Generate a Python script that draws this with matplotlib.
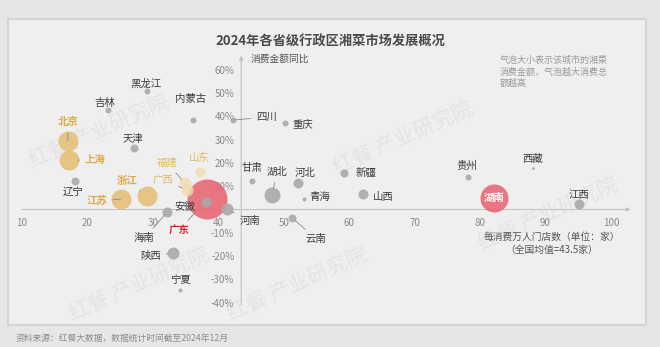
import matplotlib
matplotlib.use("Agg")
import matplotlib.pyplot as plt
from matplotlib.patches import FancyBboxPatch

plt.rcParams['font.family'] = ['Noto Sans CJK SC', 'DejaVu Sans']

# 省份、每消费万人门店数、消费金额同比(%)、相对消费金额(气泡大小)
provinces = ['北京', '上海', '辽宁', '吉林', '黑龙江', '天津', '内蒙古', '江苏', '浙江',
             '福建', '广西', '山东', '广东', '安徽', '海南', '河南', '陕西', '宁夏',
             '四川', '重庆', '甘肃', '湖北', '河北', '青海', '新疆', '山西', '云南',
             '贵州', '西藏', '湖南', '江西']
stores = [17.0, 17.2, 18.1, 23.1, 29.1, 27.1, 36.1, 25.1, 29.1,
          34.9, 35.2, 37.2, 38.3, 38.1, 32.2, 41.3, 33.1, 34.1,
          42.2, 50.2, 45.1, 48.2, 52.2, 53.1, 59.2, 62.1, 51.3,
          78.2, 88.1, 82.1, 95.1]
growth = [29.4, 21.2, 12.2, 42.7, 50.9, 26.4, 38.4, 4.5, 5.8,
          11.4, 8.4, 16.1, 4.5, 3.2, -1.1, 0.2, -18.7, -34.5,
          38.4, 37.1, 12.2, 6.2, 11.4, 4.5, 15.7, 6.7, -3.6,
          13.9, 17.8, 4.9, 2.4]
amount = [100, 100, 16, 9, 9, 16, 9, 100, 100,
          36, 36, 25, 400, 25, 25, 36, 36, 4,
          9, 9, 9, 64, 25, 4, 16, 25, 16,
          9, 2, 196, 25]

x_ticks = [10, 20, 30, 40, 50, 60, 70, 80, 90, 100]
y_ticks = [-40, -30, -20, -10, 10, 20, 30, 40, 50, 60]
avg_stores = 43.5

gold = ['北京', '上海', '江苏', '浙江']
pale_gold = ['福建', '广西', '山东']
red = ['广东', '湖南']

# label offsets in pixels (dx, dy) and whether a leader line is drawn
layout = {
    '北京': (0, 19, True), '上海': (26, 0, True), '辽宁': (-2, -11, False),
    '吉林': (-3, 7, False), '黑龙江': (-1, 7, False), '天津': (-1, 9, False),
    '内蒙古': (-2, 21, False), '江苏': (-24, -2, True), '浙江': (-20, 15, True),
    '福建': (-18, 20, True), '广西': (-24, 10, True), '山东': (-1, 14, False),
    '广东': (-28, -31, True), '安徽': (-21, -5, False), '海南': (-23, -26, True),
    '河南': (23, -12, True), '陕西': (-23, -3, True), '宁夏': (1, 10, False),
    '四川': (34, 3, True), '重庆': (18, -1, False), '甘肃': (0, 13, False),
    '湖北': (5, 23, True), '河北': (7, 10, False), '青海': (16, 2, False),
    '新疆': (22, -1, False), '山西': (20, -3, False), '云南': (24, -21, True),
    '贵州': (-1, 11, False), '西藏': (0, 9, False), '湖南': (0, 0, False),
    '江西': (0, 9, False),
}

W, H = 660, 347
fig = plt.figure(figsize=(W / 100, H / 100), dpi=100)
fig.patch.set_facecolor('#e6e6e6')

# card background
card = FancyBboxPatch((8 / W, 22 / H), 638 / W, 306 / H, boxstyle='square,pad=0',
                      transform=fig.transFigure, facecolor='#efefef',
                      edgecolor='#d4d4d4', linewidth=1.5, zorder=-2)
fig.patches.append(card)

# faint watermarks
for wx, wy in [(0.04, 0.62), (0.50, 0.60), (0.72, 0.38), (0.10, 0.18), (0.34, 0.18)]:
    fig.text(wx, wy, '红餐 产业研究院', fontsize=15, color='#e4e4e4', rotation=24,
             ha='left', va='center', zorder=-1)

ax = fig.add_axes([8.9 / W, 1 - 314.4 / H, 628.2 / W, 263.3 / H])
ax.set_facecolor('none')
ax.set_xlim(8, 104)
ax.set_ylim(-45, 68)

for s in ['top', 'right']:
    ax.spines[s].set_visible(False)
ax.spines['left'].set_position(('data', avg_stores))
ax.spines['bottom'].set_position(('data', 0))
ax.spines['left'].set_color('none')
ax.spines['bottom'].set_color('none')
ax.set_xticks(x_ticks)
ax.set_yticks(y_ticks)
ax.set_yticklabels([f'{v}%' for v in y_ticks])
ax.tick_params(axis='both', length=0, labelsize=7, labelcolor='#8a8a8a')
ax.tick_params(axis='x', pad=6)
ax.tick_params(axis='y', pad=5)

# axis lines with arrow heads
ax.annotate('', xy=(103, 0), xytext=(10, 0),
            arrowprops=dict(arrowstyle='-|>', color='#c4c4c4', lw=0.8,
                            mutation_scale=6, shrinkA=0, shrinkB=0), zorder=1)
ax.annotate('', xy=(avg_stores, 66), xytext=(avg_stores, -41),
            arrowprops=dict(arrowstyle='-|>', color='#c4c4c4', lw=0.8,
                            mutation_scale=6, shrinkA=0, shrinkB=0), zorder=1)

k = (2 * 0.72) ** 2
for name, x, y, a in zip(provinces, stores, growth, amount):
    if name in gold:
        fc, alpha, tc, fw = '#e6c178', 0.9, '#deaa45', 'bold'
    elif name in pale_gold:
        fc, alpha, tc, fw = '#efdcb0', 0.8, '#e2b96a', 'normal'
    elif name in red:
        fc, alpha, tc, fw = '#e8606e', 0.85, '#d8232f', 'bold'
    else:
        fc, alpha, tc, fw = '#a9a9a9', 0.9, '#3c3c3c', 'normal'
    z = 2 if name == '广东' else 3
    ax.scatter([x], [y], s=a * k, color=fc, alpha=alpha, linewidths=0, zorder=z)

    dx, dy, leader = layout[name]
    if name == '湖南':
        ax.text(x, y, name, color='white', fontsize=7.5, fontweight='bold',
                ha='center', va='center', zorder=5)
        continue
    arrow = None
    if leader:
        r = (a ** 0.5)
        arrow = dict(arrowstyle='-', color='#8c8c8c', lw=0.6, shrinkA=2,
                     shrinkB=max(r * 0.6, 2))
    ax.annotate(name, xy=(x, y), xytext=(dx, dy), textcoords='offset pixels',
                fontsize=7.5, color=tc, fontweight=fw, ha='center', va='center',
                arrowprops=arrow, zorder=4)

ax.text(avg_stores + 1.5, 64.5, '消费金额同比', fontsize=7, color='#555555',
        ha='left', va='center')
ax.text(91, -11.5, '每消费万人门店数（单位：家）', fontsize=7, color='#555555',
        ha='center', va='center')
ax.text(91, -17.5, '（全国均值=43.5家）', fontsize=7, color='#555555',
        ha='center', va='center')

fig.text(500 / W, 1 - 72 / H, '气泡大小表示该城市的湘菜\n消费金额，气泡越大消费总\n额越高',
         fontsize=6.5, color='#9a9a9a', ha='left', va='center', linespacing=1.3)

fig.text(330 / W, 1 - 42 / H, '2024年各省级行政区湘菜市场发展概况', fontsize=9.5,
         fontweight='bold', color='#4a4a4a', ha='center', va='center')
fig.text(16 / W, 1 - 339 / H, '资料来源：红餐大数据，数据统计时间截至2024年12月',
         fontsize=6.3, color='#8c8c8c', ha='left', va='center')

fig.savefig('out.png', dpi=100, facecolor=fig.get_facecolor())
